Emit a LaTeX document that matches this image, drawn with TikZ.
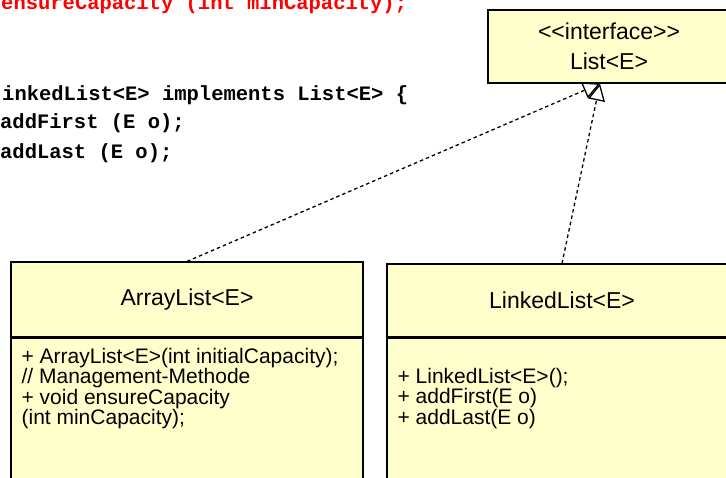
\documentclass[tikz,border=0pt]{standalone}
\usepackage{fontspec}
\setmainfont{Liberation Sans}
\setmonofont{Liberation Mono}
\usetikzlibrary{arrows.meta}
\definecolor{umlfill}{HTML}{FFFFCC}
\tikzstyle{umlbox}=[draw, fill=umlfill, line width=1.2pt, inner sep=0pt]
\tikzstyle{head}=[umlbox, align=center, font=\fontsize{23}{30}\selectfont]
\tikzstyle{members}=[align=left, anchor=north west, inner sep=0pt, font=\fontsize{21}{19.4}\selectfont]
\tikzstyle{code}=[anchor=base west, inner sep=0pt, font=\fontsize{20.5}{24}\selectfont\ttfamily\bfseries]
\tikzstyle{realize}=[line width=1.3pt, dash pattern=on 3.5pt off 3pt, -{Triangle[open, length=17pt, width=17pt]}]

\begin{document}
\begin{tikzpicture}[x=1pt, y=1pt]
    \useasboundingbox (0,0) rectangle (726,478);
    \node[code, red] (req) at (1,468) {ensureCapacity (int minCapacity);};
    \node[code] (decl) at (2,377) {inkedList<E> implements List<E> \{};
    \node[code] (first) at (0,349) {addFirst (E o);};
    \node[code] (last) at (0,319) {addLast (E o);};
    \node[head, minimum width=242, minimum height=73] (List) at (609,431.5) {<\kern0pt<interface>\kern0pt>\\List<E>};
    \node[head, minimum width=352, minimum height=75] (AHead) at (187,178.5) {ArrayList<E>};
    \node[umlbox, anchor=north, minimum width=352, minimum height=170] (ABody) at (AHead.south) {};
    \node[members] (AOps) at ([xshift=11, yshift=-10]ABody.north west) {+ ArrayList<E>(int initialCapacity);\\// Management-Methode\\+ void ensureCapacity\\(int minCapacity);};
    \node[head, minimum width=350, minimum height=73] (LHead) at (562,177.5) {LinkedList<E>};
    \node[umlbox, anchor=north, minimum width=350, minimum height=170] (LBody) at (LHead.south) {};
    \node[members] (LOps) at ([xshift=11, yshift=-30]LBody.north west) {+ LinkedList<E>();\\+ addFirst(E o)\\+ addLast(E o)};
    \coordinate (impl) at ([xshift=-9]List.south);
    \draw[realize] (AHead.north) -- (impl);
    \draw[realize] (LHead.north) -- (impl);
\end{tikzpicture}
\end{document}
